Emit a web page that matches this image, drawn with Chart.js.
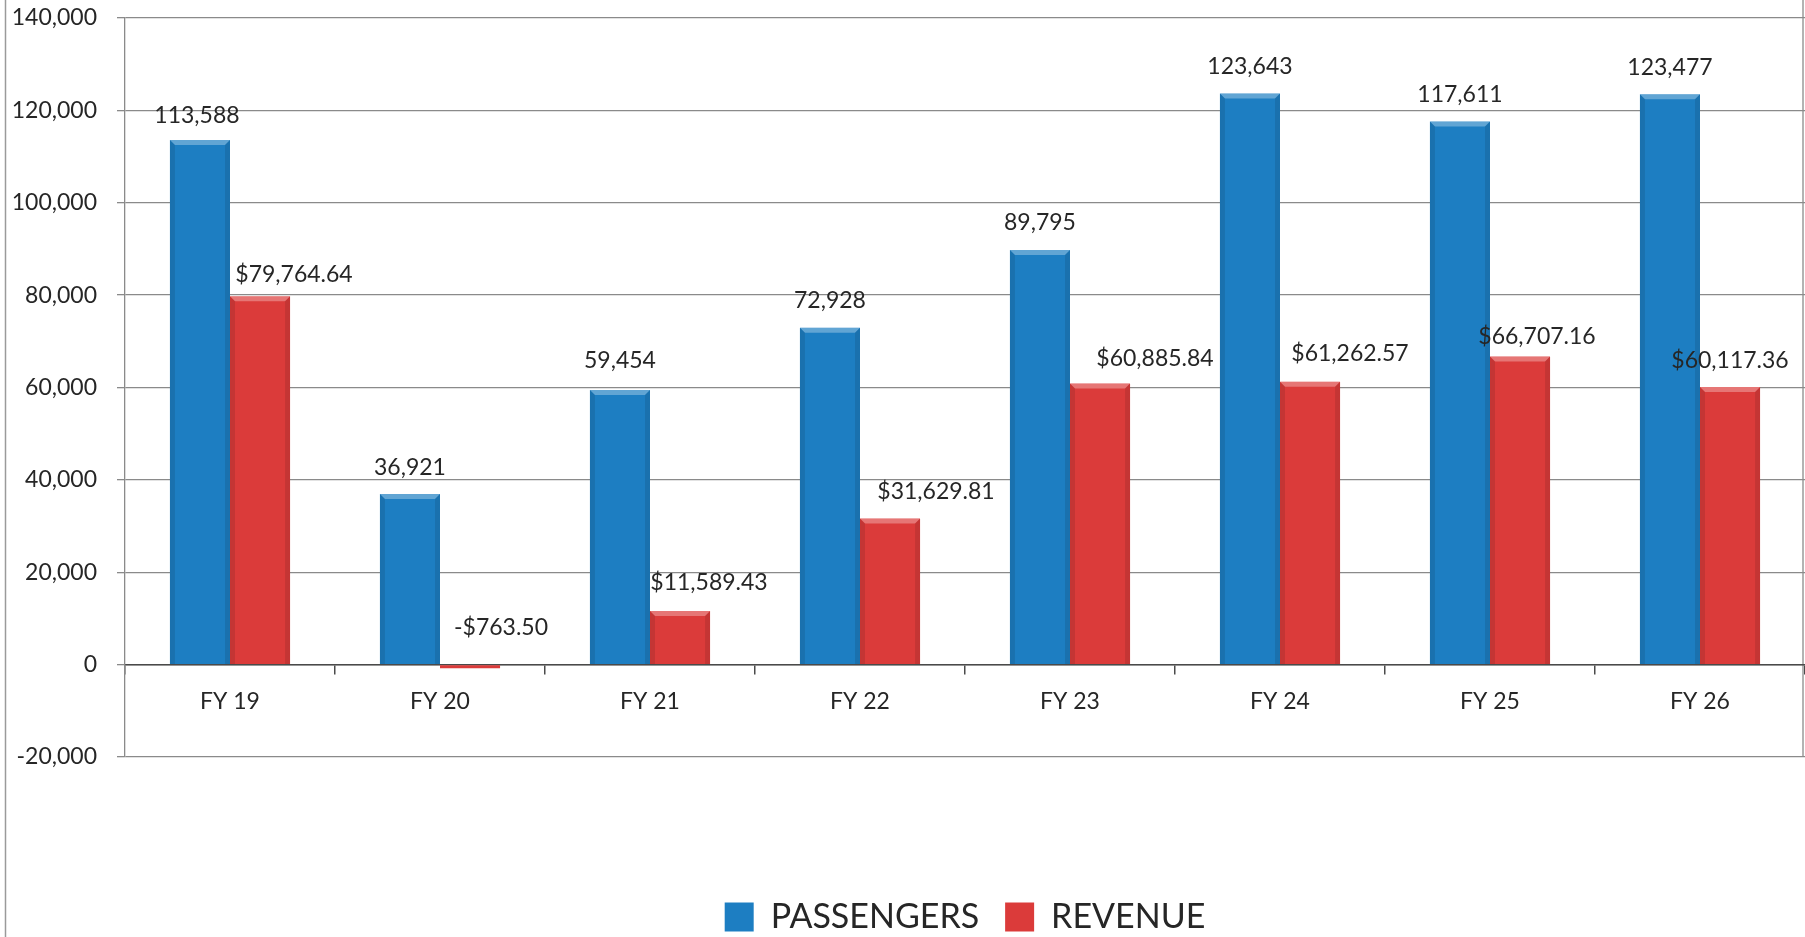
<!DOCTYPE html>
<html>
<head>
<meta charset="utf-8">
<title>Passengers and Revenue by Fiscal Year</title>
<script src="https://cdn.jsdelivr.net/npm/chart.js@4.4.1/dist/chart.umd.min.js"></script>
<style>
  html, body { margin: 0; padding: 0; background: #ffffff; }
  #wrap { width: 1805px; height: 937px; position: relative; }
  canvas { display: block; }
</style>
</head>
<body>
<div id="wrap"><canvas id="chart" width="1805" height="937"></canvas></div>
<script>
// Fiscal years and the two series
const categories = ['FY 19', 'FY 20', 'FY 21', 'FY 22', 'FY 23', 'FY 24', 'FY 25', 'FY 26'];
const passengers = [113588, 36921, 59454, 72928, 89795, 123643, 117611, 123477];
const revenue = [79764.64, -763.50, 11589.43, 31629.81, 60885.84, 61262.57, 66707.16, 60117.36];

// Value axis range and step
const yMin = -20000;
const yMax = 140000;
const yStep = 20000;

// Small hand nudges [dx, dy] applied to the value labels above the bars
const passengerLabelNudge = [[-3, 3], [0, 0], [0, -2], [0, 0], [0, 0], [0, 0], [0, 0], [0, 0]];
const revenueLabelNudge = [[34, 5], [31, -11], [29, -2], [46, 0], [55, 2], [40, -1], [17, 7], [0, 1]];

const FONT = 'Lato, "Open Sans", "DejaVu Sans", sans-serif';
const TEXT = '#262626';
const BLUE = '#1d7ec2';
const RED = '#db3b3a';

const fmtCount = v => Math.round(v).toLocaleString('en-US');
const fmtMoney = v => (v < 0 ? '-' : '') + '$' +
  Math.abs(v).toLocaleString('en-US', { minimumFractionDigits: 2, maximumFractionDigits: 2 });

// Outer frame on the left and plot border on the right
const framePlugin = {
  id: 'frame',
  beforeDraw(chart) {
    const ctx = chart.ctx;
    const a = chart.chartArea;
    ctx.save();
    ctx.strokeStyle = '#9a9a9a';
    ctx.lineWidth = 1.5;
    ctx.beginPath();
    ctx.moveTo(5.5, 0);
    ctx.lineTo(5.5, chart.height);
    ctx.stroke();
    ctx.strokeStyle = '#8a8a8a';
    ctx.lineWidth = 1.3;
    ctx.beginPath();
    ctx.moveTo(a.right - 2, 0);
    ctx.lineTo(a.right - 2, a.bottom);
    ctx.stroke();
    ctx.restore();
  }
};

// Bevelled bar edges and value labels
const barDecorPlugin = {
  id: 'barDecor',
  afterDatasetsDraw(chart) {
    const ctx = chart.ctx;
    ctx.save();
    chart.data.datasets.forEach((ds, di) => {
      const meta = chart.getDatasetMeta(di);
      meta.data.forEach(bar => {
        const w = bar.width;
        const left = bar.x - w / 2, right = bar.x + w / 2;
        const top = Math.min(bar.y, bar.base), bottom = Math.max(bar.y, bar.base);
        const b = 5;
        if (bottom - top < 2 * b + 2) return;
        // top highlight
        ctx.fillStyle = 'rgba(255,255,255,0.30)';
        ctx.beginPath();
        ctx.moveTo(left, top); ctx.lineTo(right, top);
        ctx.lineTo(right - b, top + b); ctx.lineTo(left + b, top + b);
        ctx.closePath(); ctx.fill();
        // left and right edges
        ctx.fillStyle = 'rgba(0,0,0,0.10)';
        ctx.beginPath();
        ctx.moveTo(left, top); ctx.lineTo(left + b, top + b);
        ctx.lineTo(left + b, bottom); ctx.lineTo(left, bottom);
        ctx.closePath(); ctx.fill();
        ctx.beginPath();
        ctx.moveTo(right, top); ctx.lineTo(right - b, top + b);
        ctx.lineTo(right - b, bottom); ctx.lineTo(right, bottom);
        ctx.closePath(); ctx.fill();
      });
    });

    ctx.font = '23px ' + FONT;
    ctx.fillStyle = TEXT;
    ctx.textAlign = 'center';
    ctx.textBaseline = 'middle';
    chart.data.datasets.forEach((ds, di) => {
      const meta = chart.getDatasetMeta(di);
      const nudge = di === 0 ? passengerLabelNudge : revenueLabelNudge;
      const fmt = di === 0 ? fmtCount : fmtMoney;
      meta.data.forEach((bar, i) => {
        const top = Math.min(bar.y, bar.base);
        const [dx, dy] = nudge[i];
        ctx.fillText(fmt(ds.data[i]), bar.x + dx, top - 27 + dy);
      });
    });
    ctx.restore();
  }
};

const yTickValues = [];
for (let v = yMin; v <= yMax; v += yStep) yTickValues.push(v);

new Chart(document.getElementById('chart'), {
  type: 'bar',
  data: {
    labels: categories,
    datasets: [
      { label: 'PASSENGERS', data: passengers, backgroundColor: BLUE, borderWidth: 0 },
      { label: 'REVENUE', data: revenue, backgroundColor: RED, borderWidth: 0 }
    ]
  },
  options: {
    responsive: false,
    devicePixelRatio: 1,
    animation: false,
    layout: { padding: { top: 18, right: 0, bottom: -7, left: 0 } },
    datasets: { bar: { categoryPercentage: 0.572, barPercentage: 1.0 } },
    plugins: {
      tooltip: { enabled: false },
      legend: {
        position: 'bottom',
        fullSize: false,
        title: {
          // empty band that keeps the category labels clear of the legend row
          display: true,
          text: ' ',
          font: { size: 10 },
          padding: { top: 105, bottom: 0 }
        },
        labels: {
          font: { family: FONT, size: 34 },
          color: TEXT,
          boxWidth: 29,
          boxHeight: 29,
          padding: 26
        }
      }
    },
    scales: {
      x: {
        type: 'category',
        position: { y: 0 },
        offset: true,
        grid: { display: true, drawOnChartArea: false, drawTicks: true, tickLength: 9, color: '#4a4a4a', lineWidth: 1.5, offset: true },
        border: { display: true, color: '#4a4a4a', width: 1.5 },
        ticks: { font: { family: FONT, size: 23 }, color: TEXT, padding: 14, maxRotation: 0 }
      },
      y: {
        min: yMin,
        max: yMax,
        afterBuildTicks(scale) { scale.ticks = yTickValues.map(v => ({ value: v })); },
        grid: { color: '#8a8a8a', lineWidth: 1.3, drawTicks: true, tickLength: 8 },
        border: { display: true, color: '#8a8a8a', width: 1.3 },
        ticks: {
          font: { family: FONT, size: 23 },
          color: TEXT,
          padding: 20,
          callback: v => Number(v).toLocaleString('en-US')
        },
        afterFit(scale) {
          scale.width = 125;
          scale.paddingTop = 0;
          scale.paddingBottom = 0;
        }
      }
    }
  },
  plugins: [framePlugin, barDecorPlugin]
});
</script>
</body>
</html>
